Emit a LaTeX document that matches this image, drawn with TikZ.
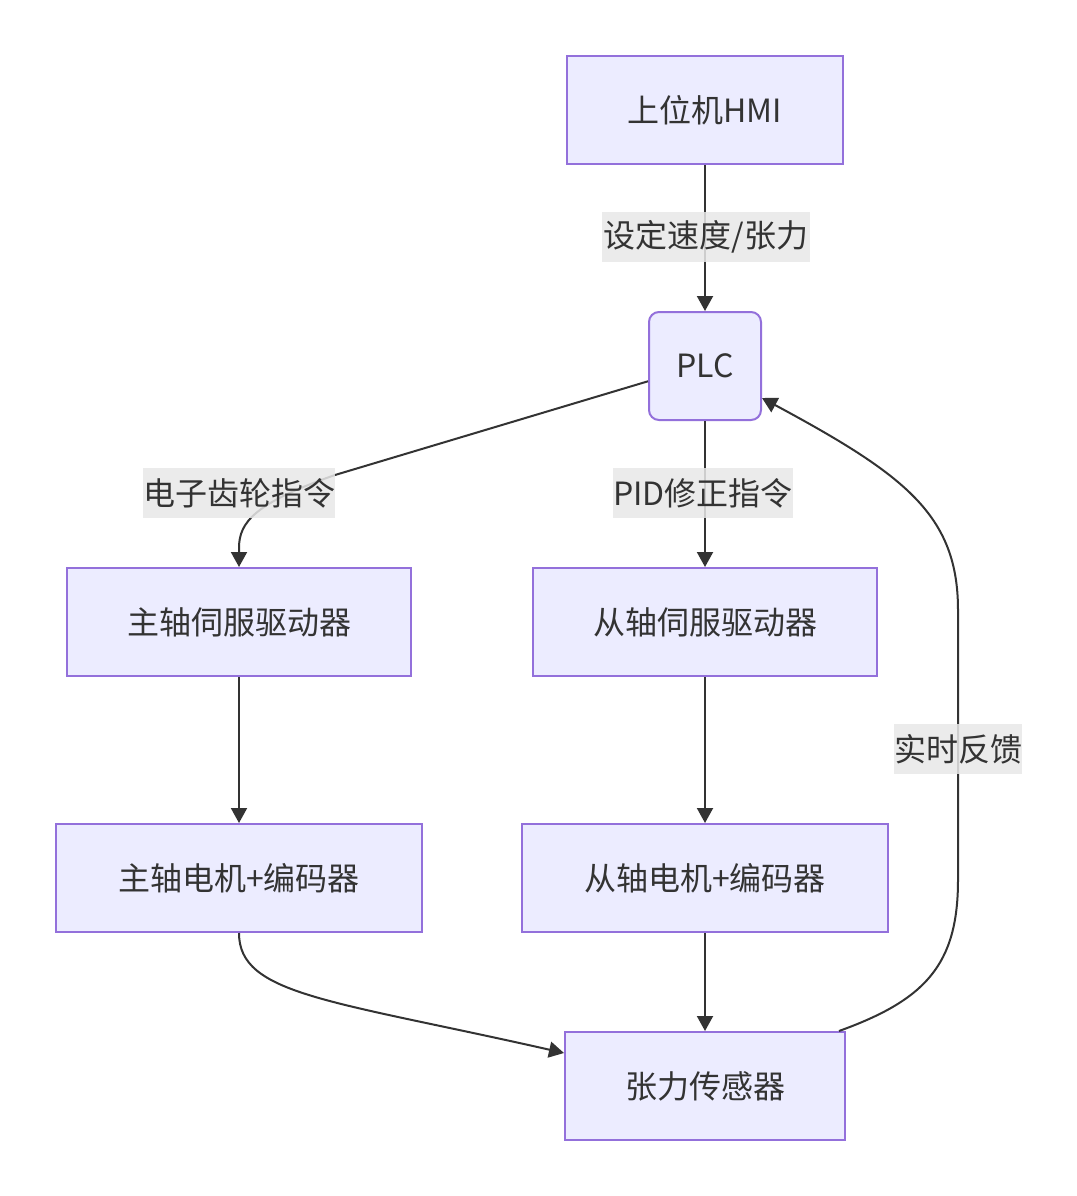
\documentclass[tikz,border=0pt]{standalone}
\usepackage{fontspec}
\setmainfont{Noto Sans CJK SC}
\usetikzlibrary{arrows.meta,calc}
\definecolor{nodefill}{HTML}{ECECFF}
\definecolor{nodeline}{HTML}{9370DB}
\definecolor{edgecol}{HTML}{333333}
\definecolor{lblfill}{HTML}{E8E8E8}
\tikzset{
  box/.style={draw=nodeline, fill=nodefill, line width=1.5pt, minimum height=81pt,
    text=edgecol, font=\fontsize{24pt}{28pt}\selectfont, inner sep=0pt},
  rbox/.style={box, rounded corners=7.5pt},
  lbl/.style={fill=lblfill, fill opacity=0.85, text opacity=1, text=edgecol,
    font=\fontsize{24pt}{28pt}\selectfont, inner sep=0pt, minimum height=37.5pt},
  conn/.style={draw=edgecol, line width=1.5pt,
    -{Triangle[length=11.25pt,width=12pt]}},
}
\begin{document}
\begin{tikzpicture}[x=0.75pt,y=-0.75pt]
\useasboundingbox (0,0) rectangle (1077,1196);
% nodes
\node[box, minimum width=207pt] (hmi) at (705,110) {上位机HMI};
\node[rbox, minimum width=84pt] (plc) at (705,366) {PLC};
\node[box, minimum width=258pt] (msd) at (239,622) {主轴伺服驱动器};
\node[box, minimum width=258pt] (ssd) at (705,622) {从轴伺服驱动器};
\node[box, minimum width=274.5pt] (mme) at (239,878) {主轴电机+编码器};
\node[box, minimum width=274.5pt] (sme) at (705,878) {从轴电机+编码器};
\node[box, minimum width=210pt] (ts) at (705,1086) {张力传感器};
% connectors
\draw[conn] (hmi.south) -- (plc.north);
\draw[conn] (plc.-165) -- (335,475) .. controls (255,503) and (239,522) .. (239,548) -- (msd.north);
\draw[conn] (plc.south) -- (ssd.north);
\draw[conn] (msd.south) -- (mme.north);
\draw[conn] (ssd.south) -- (sme.north);
\draw[conn] (mme.south) .. controls (239,995) and (330,1000) .. ($(ts.west)+(0,-33)$);
\draw[conn] (sme.south) -- (ts.north);
\draw[conn] ($(ts.north east)+(-7,0)$) .. controls (925,1000) and (958,965) .. (958,880)
  -- (958,610) .. controls (958,515) and (905,475) .. ($(plc.east)+(0,32)$);
% edge labels
\node[lbl, minimum width=156pt] (l1) at (706,237) {设定速度/张力};
\node[lbl, minimum width=144pt] (l2) at (239,493) {电子齿轮指令};
\node[lbl, minimum width=130.5pt] (l3) at (703,493) {PID修正指令};
\node[lbl, minimum width=96pt] (l4) at (958,749) {实时反馈};
\end{tikzpicture}
\end{document}
